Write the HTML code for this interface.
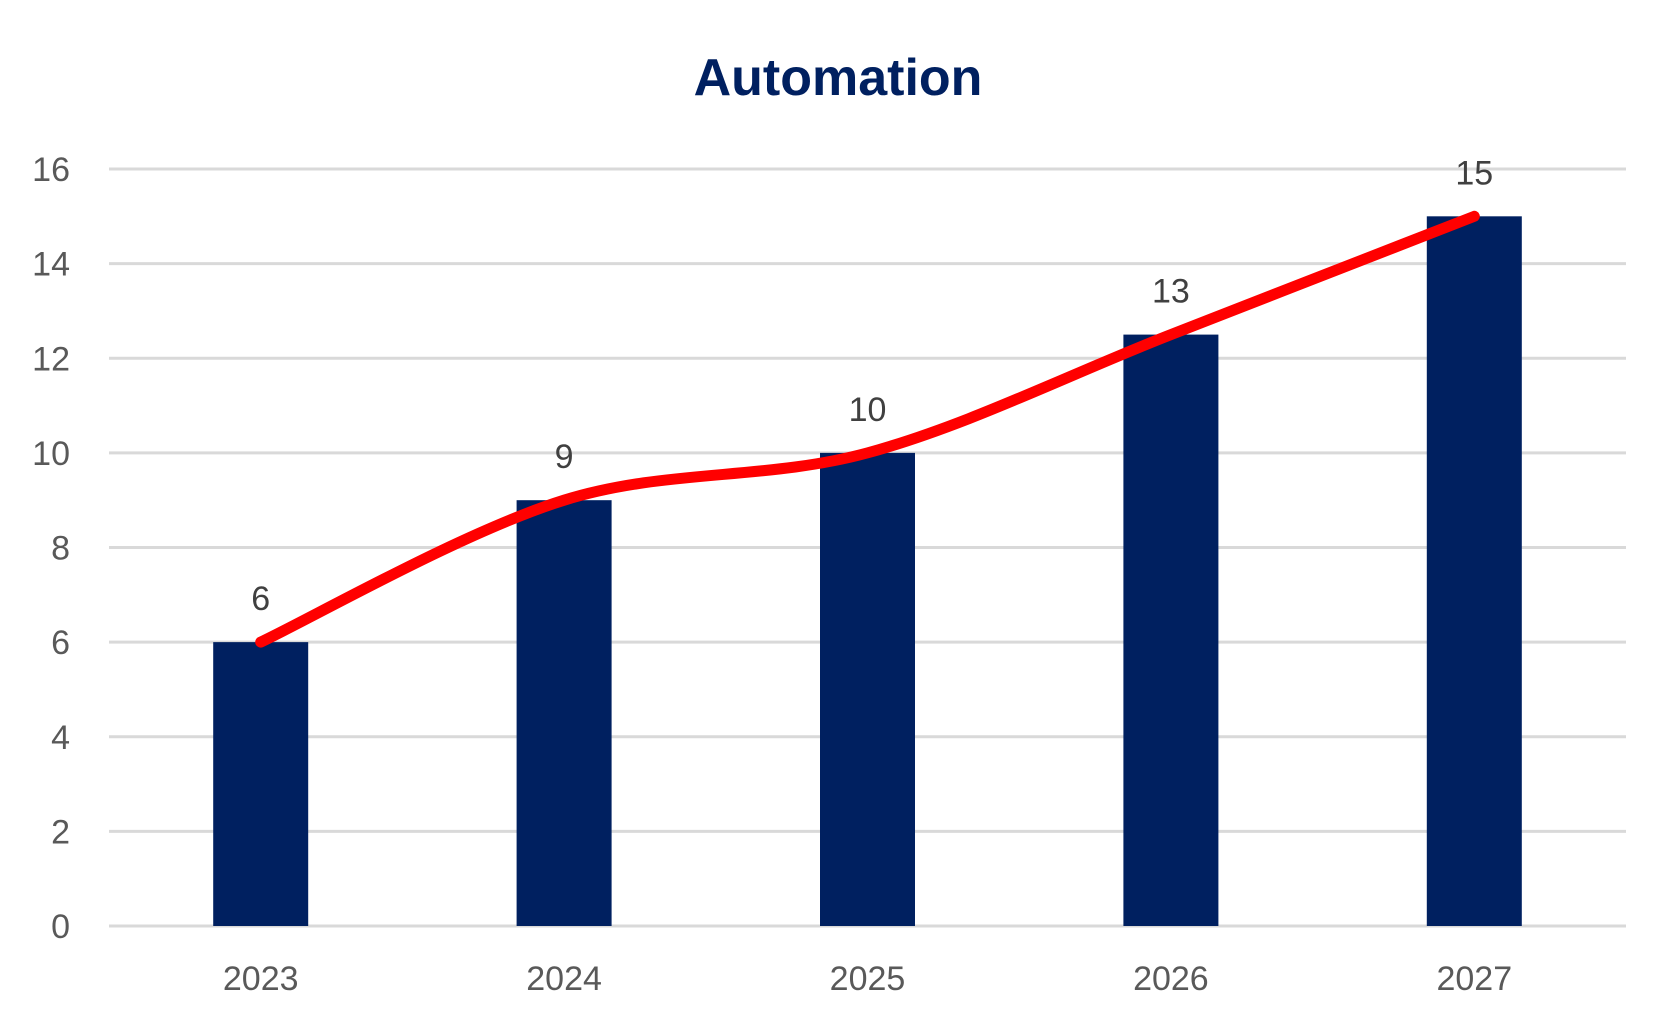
<!DOCTYPE html>
<html><head><meta charset="utf-8"><style>
body{margin:0;background:#fff}
svg{display:block;font-family:"Liberation Sans",sans-serif}
</style></head><body>
<svg id="chart" width="1677" height="1033" viewBox="0 0 1677 1033">
<text x="838" y="95" text-anchor="middle" font-size="52" font-weight="bold" fill="#002060">Automation</text>
<g id="grid"></g><g id="bars"></g><g id="line"></g><g id="labels"></g>
</svg>
<script>
const categories=["2023","2024","2025","2026","2027"];
const values=[6,9,10,12.5,15];
const valueLabels=["6","9","10","13","15"];
const yTicks=[0,2,4,6,8,10,12,14,16];
const NS="http://www.w3.org/2000/svg";
const L=109,R=1626,T=169,B=926,yMax=16;
const y=v=>B-(B-T)*v/yMax;
const bw=(R-L)/categories.length;
const x=i=>L+bw*(i+0.5);
function mk(t,p,a){const e=document.createElementNS(NS,t);for(const k in a)e.setAttribute(k,a[k]);p.appendChild(e);return e;}
const g=document.getElementById('grid'),bg=document.getElementById('bars'),lg=document.getElementById('line'),lb=document.getElementById('labels');
yTicks.forEach(v=>{
 const l=mk('line',g,{x1:L,x2:R,y1:y(v),y2:y(v),stroke:'#d9d9d9','stroke-width':3});
 
 
 const t=mk('text',g,{x:70,y:y(v)+12,'text-anchor':'end','font-size':34,fill:'#595959'});
 t.textContent=v;
 
 
});
categories.forEach((c,i)=>{
 const r=mk('rect',bg,{x:x(i)-47.5,y:y(values[i]),width:95,height:B-y(values[i]),fill:'#002060'});
 
 
 const t=mk('text',lb,{x:x(i),y:990,'text-anchor':'middle','font-size':34,fill:'#595959'});
 t.textContent=c;
 
 
 const d=mk('text',lb,{x:x(i),y:y(values[i])-32,'text-anchor':'middle','font-size':34,fill:'#404040'});
 d.textContent=valueLabels[i];
 
 
});
const pts=values.map((v,i)=>[x(i),y(v)]);
let d='M'+pts[0][0]+','+pts[0][1];
for(let i=0;i<pts.length-1;i++){
 const p0=pts[Math.max(0,i-1)],p1=pts[i],p2=pts[i+1],p3=pts[Math.min(pts.length-1,i+2)];
 const c1=[p1[0]+(p2[0]-p0[0])/6,p1[1]+(p2[1]-p0[1])/6],c2=[p2[0]-(p3[0]-p1[0])/6,p2[1]-(p3[1]-p1[1])/6];
 d+=' C'+c1+' '+c2+' '+p2;
}
const path=mk('path',lg,{d:d,fill:'none',stroke:'#ff0000','stroke-width':11,'stroke-linecap':'round','stroke-linejoin':'round'});


</script>
</body></html>
